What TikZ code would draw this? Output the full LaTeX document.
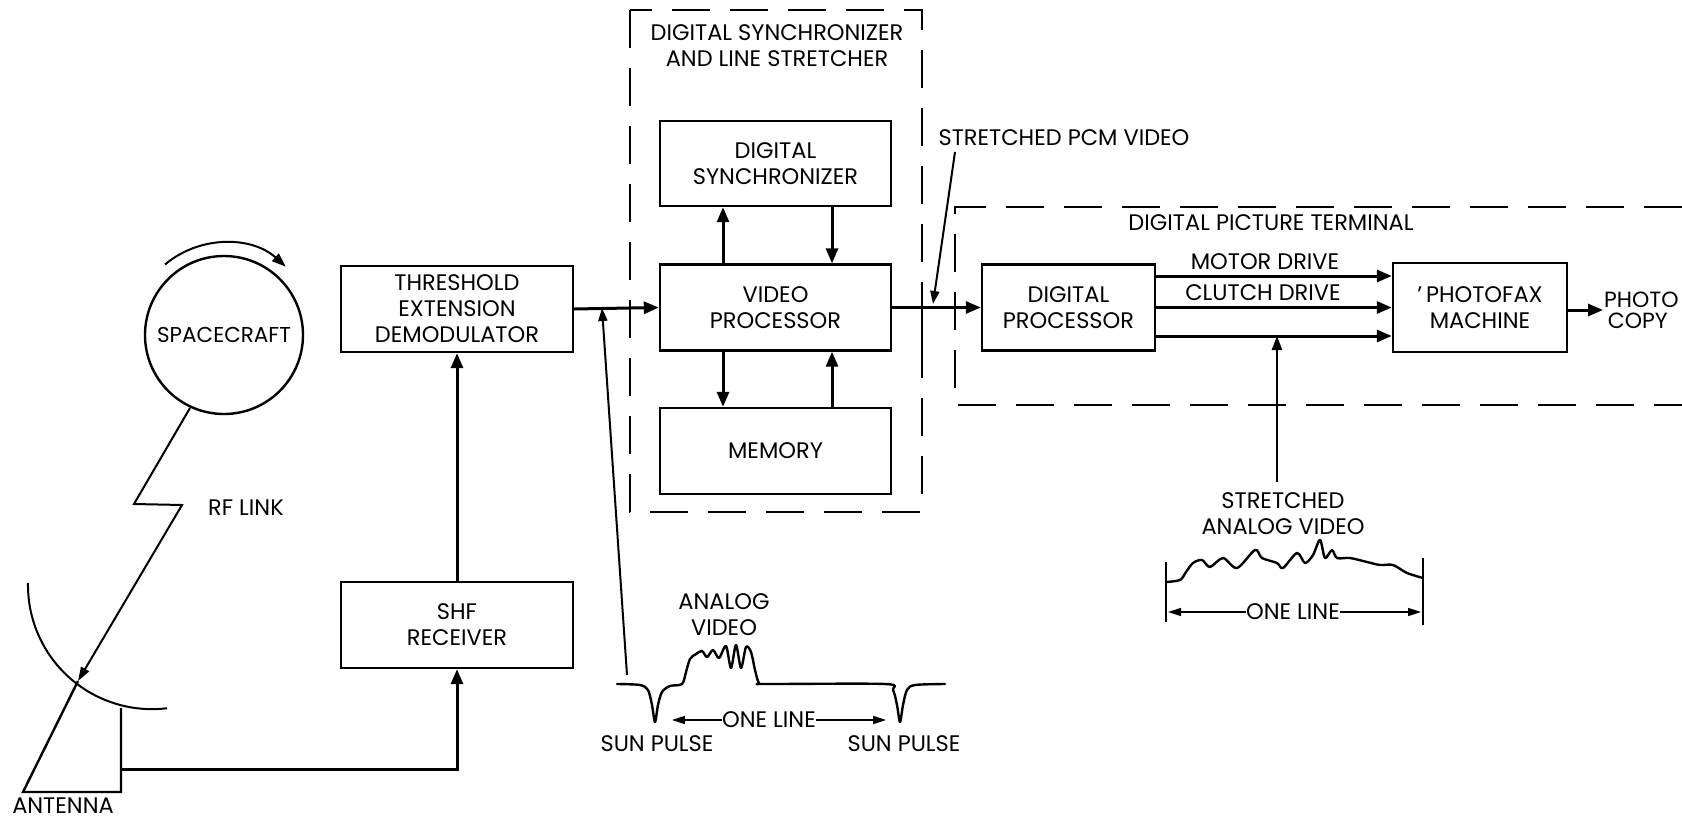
\documentclass[tikz,border=0pt]{standalone}
\usepackage{fontspec}
\setmainfont{Poppins}
\usetikzlibrary{arrows.meta}
\begin{document}
\begin{tikzpicture}[x=1pt,y=-1pt,
  txt/.style={font=\fontsize{22.5}{26}\selectfont, align=center, inner sep=0pt},
  box/.style={draw, line width=2.4pt, rectangle, inner sep=0pt, font=\fontsize{22.5}{26}\selectfont, align=center},
  conn/.style={line width=3pt, -{Triangle[length=15pt,width=12pt]}},
  plain/.style={line width=2.4pt},
  lead/.style={line width=2pt, -{Triangle[length=13pt,width=9pt]}},
  wave/.style={line width=2.4pt, line join=round, line cap=round},
  dsh/.style={line width=2.6pt, dash pattern=on 38pt off 20pt},
]
\useasboundingbox (0,0) rectangle (1682,824);

% ---------- blocks ----------
\node[draw, circle, line width=2.4pt, minimum size=158pt, inner sep=0pt, font=\fontsize{21.5}{26}\selectfont] (sc) at (224,335) {SPACECRAFT};
\node[box, minimum width=232pt, minimum height=86pt] (thr) at (457,309) {THRESHOLD\\EXTENSION\\DEMODULATOR};
\node[box, minimum width=232pt, minimum height=86pt] (shf) at (457,625) {SHF\\RECEIVER};
\node[box, minimum width=231pt, minimum height=85pt] (ds) at (775.5,163.5) {DIGITAL\\SYNCHRONIZER};
\node[box, minimum width=231pt, minimum height=86pt] (vp) at (775.5,307.5) {VIDEO\\PROCESSOR};
\node[box, minimum width=231pt, minimum height=86pt] (mem) at (775.5,451) {MEMORY};
\node[box, minimum width=173pt, minimum height=86pt] (dp) at (1068.5,307.5) {DIGITAL\\PROCESSOR};
\node[box, minimum width=174pt, minimum height=89pt] (pf) at (1480,307.5) {'\,PHOTOFAX\\MACHINE};

% ---------- dashed groups ----------
\draw[dsh] (630,10) rectangle (922,512);
\draw[plain] (922,297) -- (922,348);
\draw[dsh] (1682,207) -- (955,207) -- (955,405) -- (1682,405);
\node[txt] (dslsT) at (777,46) {DIGITAL SYNCHRONIZER\\AND LINE STRETCHER};
\node[txt] (dptT) at (1271,223) {DIGITAL PICTURE TERMINAL};

% ---------- spacecraft / RF link / antenna ----------
\draw[line width=2pt, -{Triangle[length=14pt,width=10pt]}] (165,264.5) arc[start angle=-130, end angle=-48, radius=92];
\coordinate (rfstart) at (190,408);
\coordinate (rftip) at (78,681);
\draw[line width=2pt, -{Triangle[length=14pt,width=9pt]}] (rfstart) -- (134,504) -- (182,505) -- (rftip);
\node[txt] (rf) at (246,508) {RF LINK};
\draw[line width=2pt] (28,583) arc[start angle=181, end angle=83, radius=124];
\coordinate (base) at (121,792);
\draw[plain] (rftip) -- (23,792) -- (base) -- (121,708);
\node[txt] (ant) at (63,806) {ANTENNA};

% ---------- main connectors ----------
\coordinate (feed) at (121,769);
\draw[conn] (feed) -| (shf.south);
\draw[conn] (shf.north) -- (thr.south);
\draw[conn] (thr.east) -- (vp.west);
\draw[conn] ([xshift=-52.5pt]vp.north) -- ([xshift=-52.5pt]ds.south);
\draw[conn] ([xshift=56.5pt]ds.south) -- ([xshift=56.5pt]vp.north);
\draw[conn] ([xshift=-52.5pt]vp.south) -- ([xshift=-52.5pt]mem.north);
\draw[conn] ([xshift=56.5pt]mem.north) -- ([xshift=56.5pt]vp.south);
\draw[conn] (vp.east) -- (dp.west);
\coordinate (y1) at (0,276);
\coordinate (y2) at (0,307.5);
\coordinate (y3) at (0,336);
\draw[conn] (dp.east |- y1) -- (pf.west |- y1);
\draw[conn] (dp.east |- y2) -- (pf.west |- y2);
\draw[conn] (dp.east |- y3) -- (pf.west |- y3);
\node[txt] (motor) at (1265,262) {MOTOR DRIVE};
\node[txt] (clutch) at (1263,293) {CLUTCH DRIVE};
\coordinate (pcend) at (1603,310);
\draw[conn] (pf.east |- pcend) -- (pcend);
\node[txt, align=left, anchor=west, font=\fontsize{22}{21}\selectfont] (photo) at (1604,310) {PHOTO\\\,COPY};

% ---------- stretched PCM video label ----------
\node[txt] (pcm) at (1064,138) {STRETCHED PCM VIDEO};
\coordinate (pcmfrom) at (955,152);
\coordinate (pcmto) at (933,304);
\draw[lead] (pcmfrom) -- (pcmto);

% ---------- analog video waveform ----------
\coordinate (tapfoot) at (627,675);
\coordinate (tap) at (602,308);
\draw[lead] (tapfoot) -- (tap);
\draw[wave] plot[smooth, tension=0.5] coordinates {(617,684) (640,685) (648,690) (652,705) (655,722) (658,705) (662,692) (670,686) (682,684) (686,672) (690,659) (696,654) (702,651) (707,657) (713,650) (719,658) (726,646) (731,668) (736,645) (741,668) (746,647) (751,652) (755,670) (759,683) (766,684) (885,684) (893,690) (897,705) (900,722) (903,705) (907,690) (915,685) (945,684)};
\node[txt] (av) at (724,615) {ANALOG\\VIDEO};
\node[txt] (one1) at (769,720) {ONE LINE};
\draw[line width=1.6pt, -{Triangle[length=13pt,width=8pt]}] (one1.west) -- ++(-50,0);
\draw[line width=1.6pt, -{Triangle[length=13pt,width=8pt]}] (one1.east) -- ++(70,0);
\node[txt] (sp1) at (657,744) {SUN PULSE};
\node[txt] (sp2) at (904,744) {SUN PULSE};

% ---------- stretched analog video ----------
\node[txt] (sav) at (1283,514) {STRETCHED\\ANALOG VIDEO};
\coordinate (savtop) at (1277,482);
\draw[line width=2.4pt, -{Triangle[length=14pt,width=10pt]}] (savtop) -- (savtop |- y3);
\draw[wave] plot[smooth, tension=0.5] coordinates {(1166,582) (1180,580) (1186,572) (1193,563) (1202,560) (1210,567) (1223,558) (1237,568) (1255,550) (1262,558) (1277,563) (1283,568) (1297,553) (1305,563) (1313,555) (1320,540) (1325,558) (1332,550) (1337,558) (1350,558) (1367,562) (1380,565) (1393,565) (1407,573) (1423,578)};
\draw[plain] (1166,562) -- (1166,622);
\draw[plain] (1423,558) -- (1423,625);
\node[txt] (one2) at (1293,612) {ONE LINE};
\draw[line width=1.6pt, -{Triangle[length=13pt,width=8pt]}] (one2.west) -- (1168,612);
\draw[line width=1.6pt, -{Triangle[length=13pt,width=8pt]}] (one2.east) -- (1421,612);
\end{tikzpicture}
\end{document}
